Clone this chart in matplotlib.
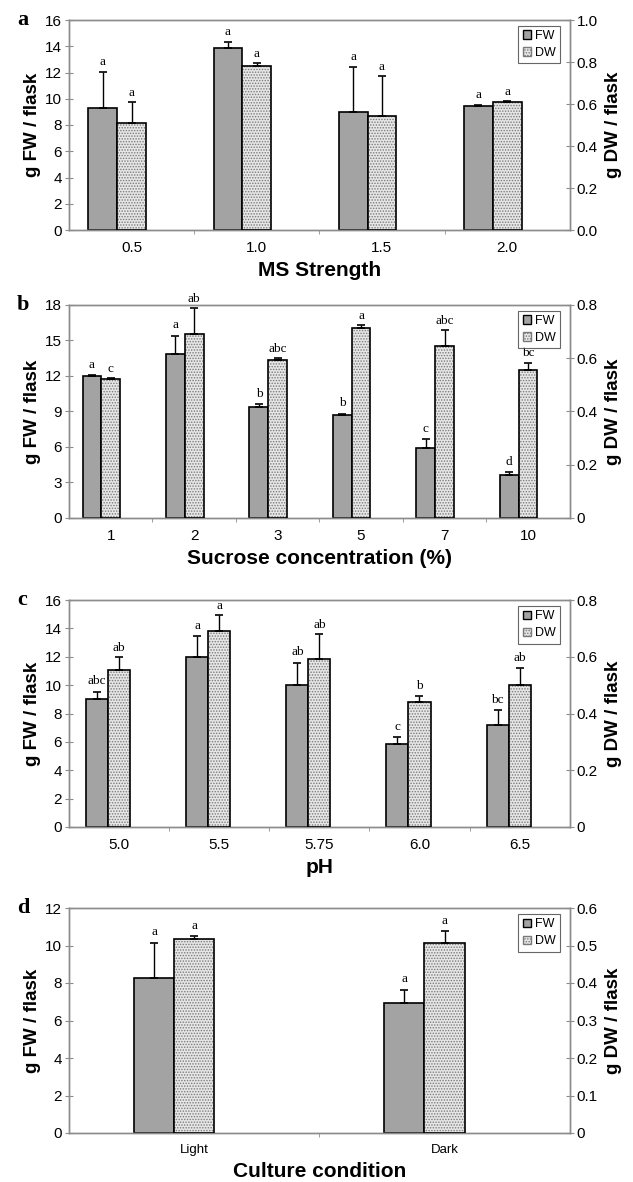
import numpy as np
import matplotlib
matplotlib.use("Agg")
from matplotlib import pyplot as plt
from matplotlib.patches import Patch
from matplotlib.ticker import FixedLocator

plt.rcParams['font.family'] = ['Liberation Sans', 'DejaVu Sans']
plt.rcParams['hatch.linewidth'] = 0.7

FW_COLOR = '#a3a3a3'
DW_FACE = '#e6e6e6'
DW_HATCH = '#7a7a7a'
SPINE = '#8c8c8c'

# a - MS strength
ms_labels = ['0.5', '1.0', '1.5', '2.0']
ms_fw = [9.27, 13.83, 9.01, 9.44]
ms_fw_err = [2.79, 0.46, 3.38, 0.08]
ms_dw = [0.508, 0.781, 0.544, 0.609]
ms_dw_err = [0.103, 0.012, 0.187, 0.005]
ms_fw_let = ['a', 'a', 'a', 'a']
ms_dw_let = ['a', 'a', 'a', 'a']

# b - sucrose
suc_labels = ['1', '2', '3', '5', '7', '10']
suc_fw = [11.99, 13.83, 9.40, 8.69, 5.95, 3.66]
suc_fw_err = [0.09, 1.58, 0.22, 0.14, 0.71, 0.22]
suc_dw = [0.522, 0.690, 0.592, 0.712, 0.646, 0.556]
suc_dw_err = [0.004, 0.098, 0.009, 0.013, 0.059, 0.028]
suc_fw_let = ['a', 'a', 'b', 'b', 'c', 'd']
suc_dw_let = ['c', 'ab', 'abc', 'a', 'abc', 'bc']

# c - pH
ph_labels = ['5.0', '5.5', '5.75', '6.0', '6.5']
ph_fw = [9.00, 11.97, 10.00, 5.85, 7.18]
ph_fw_err = [0.55, 1.47, 1.57, 0.48, 1.06]
ph_dw = [0.555, 0.691, 0.593, 0.439, 0.502]
ph_dw_err = [0.044, 0.056, 0.087, 0.024, 0.060]
ph_fw_let = ['abc', 'a', 'ab', 'c', 'bc']
ph_dw_let = ['ab', 'a', 'ab', 'b', 'ab']

# d - culture condition
cult_labels = ['Light', 'Dark']
cult_fw = [8.29, 6.92]
cult_fw_err = [1.87, 0.71]
cult_dw = [0.517, 0.506]
cult_dw_err = [0.009, 0.034]
cult_fw_let = ['a', 'a']
cult_dw_let = ['a', 'a']


def panel(rect, letter, labels, fw, fw_err, dw, dw_err, fw_let, dw_let,
          w, fw_max, fw_step, dw_max, dw_step, dw_fmt, xlabel, xtick_size=11):
    ax = fig.add_axes(rect)
    ax2 = ax.twinx()
    n = len(labels)
    x = np.arange(n) + 0.5

    ax.bar(x - w, fw, w, color=FW_COLOR, edgecolor='black', linewidth=1.2, zorder=2)
    ax.errorbar(x - w, fw, yerr=[np.zeros(n), fw_err], fmt='none', ecolor='black',
                elinewidth=1.0, capsize=3, capthick=1.2, zorder=3)

    ax2.bar(x, dw, w, color=DW_FACE, edgecolor=DW_HATCH, hatch='......', linewidth=0, zorder=2)
    ax2.bar(x, dw, w, fill=False, edgecolor='black', linewidth=1.2, zorder=3)
    ax2.errorbar(x, dw, yerr=[np.zeros(n), dw_err], fmt='none', ecolor='black',
                 elinewidth=1.0, capsize=3, capthick=1.2, zorder=3)

    fw_off = fw_max * 0.02
    dw_off = dw_max * 0.015
    for i in range(n):
        ax.text(x[i] - w, fw[i] + fw_err[i] + fw_off, fw_let[i], ha='center', va='bottom',
                family='Liberation Serif', fontsize=9.5)
        ax2.text(x[i], dw[i] + dw_err[i] + dw_off, dw_let[i], ha='center', va='bottom',
                 family='Liberation Serif', fontsize=9.5)

    ax.set_xlim(0, n)
    ax.set_ylim(0, fw_max)
    ax2.set_ylim(0, dw_max)
    ax.set_yticks(np.arange(0, fw_max + 0.001, fw_step))
    dticks = np.arange(0, dw_max + 1e-6, dw_step)
    ax2.set_yticks(dticks)
    ax2.set_yticklabels([dw_fmt(t) for t in dticks])

    ax.set_xticks(x)
    ax.set_xticklabels(labels, fontsize=xtick_size)
    ax.xaxis.set_minor_locator(FixedLocator(np.arange(1, n)))
    ax.tick_params(axis='x', which='major', length=0, pad=8)
    ax.tick_params(axis='x', which='minor', length=3, direction='out', color=SPINE)
    ax.tick_params(axis='y', direction='inout', length=6, color=SPINE, labelsize=11, pad=2)
    ax2.tick_params(axis='y', direction='inout', length=6, color=SPINE, labelsize=11, pad=2)

    for a_ in (ax, ax2):
        for s in a_.spines.values():
            s.set_color(SPINE)
            s.set_linewidth(1.0)

    ax.set_ylabel('g FW / flask', fontsize=13.5, fontweight='bold', labelpad=3)
    ax2.set_ylabel('g DW / flask', fontsize=13.5, fontweight='bold', labelpad=5)
    ax.set_xlabel(xlabel, fontsize=15, fontweight='bold', labelpad=4)

    handles = [Patch(facecolor=FW_COLOR, edgecolor='black', linewidth=1.0),
               Patch(facecolor=DW_FACE, edgecolor=DW_HATCH, hatch='......', linewidth=1.0)]
    leg = ax2.legend(handles, ['FW', 'DW'], loc='upper right', fontsize=9,
                     handlelength=0.7, handleheight=0.7, handletextpad=0.25,
                     borderpad=0.35, labelspacing=0.4, borderaxespad=0.2,
                     fancybox=False, bbox_to_anchor=(0.985, 0.985))
    leg.get_frame().set_edgecolor('#404040')
    leg.get_frame().set_linewidth(0.8)

    top = rect[1] + rect[3]
    fig.text(0.027, top, letter, family='Liberation Serif', fontweight='bold',
             fontsize=16, ha='left', va='center')
    return ax, ax2


fig = plt.figure(figsize=(6.33, 11.82), dpi=100)

L, W = 0.109, 0.791
panel([L, 1 - 230 / 1182, W, 210 / 1182], 'a', ms_labels, ms_fw, ms_fw_err, ms_dw, ms_dw_err,
      ms_fw_let, ms_dw_let, 0.23, 16, 2, 1.0, 0.2, lambda t: '%.1f' % t, 'MS Strength')
panel([L, 1 - 518 / 1182, W, 213 / 1182], 'b', suc_labels, suc_fw, suc_fw_err, suc_dw, suc_dw_err,
      suc_fw_let, suc_dw_let, 0.225, 18, 3, 0.8, 0.2,
      lambda t: '0' if t == 0 else '%.1f' % t, 'Sucrose concentration (%)')
panel([L, 1 - 827 / 1182, W, 227 / 1182], 'c', ph_labels, ph_fw, ph_fw_err, ph_dw, ph_dw_err,
      ph_fw_let, ph_dw_let, 0.22, 16, 2, 0.8, 0.2,
      lambda t: '0' if t == 0 else '%.1f' % t, 'pH')
panel([L, 1 - 1133 / 1182, W, 225 / 1182], 'd', cult_labels, cult_fw, cult_fw_err, cult_dw, cult_dw_err,
      cult_fw_let, cult_dw_let, 0.16, 12, 2, 0.6, 0.1,
      lambda t: '0' if t == 0 else '%.1f' % t, 'Culture condition', xtick_size=9.5)

fig.savefig('out.png', dpi=100)
